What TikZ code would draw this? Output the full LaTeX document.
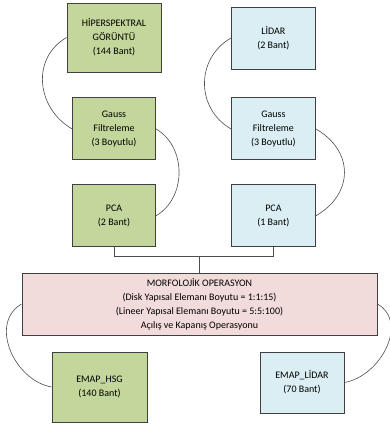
\documentclass[tikz,border=0pt]{standalone}
\usepackage{fontspec}
\setmainfont{Carlito}
\usetikzlibrary{positioning}

\definecolor{hsggreen}{HTML}{C3D69B}
\definecolor{lidarblue}{HTML}{DBEEF3}
\definecolor{morfpink}{HTML}{F2DCDB}

\tikzset{
	box/.style={draw=black!75, line width=0.9pt, align=center, inner sep=0pt,
		font=\fontsize{10}{14}\selectfont},
	hsgbox/.style={box, fill=hsggreen, minimum width=83pt, minimum height=62pt},
	lidarbox/.style={box, fill=lidarblue, minimum width=84pt, minimum height=62pt},
	morfbox/.style={box, fill=morfpink, minimum width=355pt, minimum height=62pt},
	bag/.style={draw=black!70, line width=0.6pt},
}

\begin{document}
\begin{tikzpicture}[x=1pt, y=-1pt]
		\useasboundingbox (0,0) rectangle (390,426);

		\node[hsgbox, minimum width=94pt, minimum height=69pt] (hsi) at (114,37.5) {HİPERSPEKTRAL\\GÖRÜNTÜ\\(144 Bant)} ;
		\node[hsgbox, below=25pt of hsi] (gl) 	{Gauss\\Filtreleme\\(3 Boyutlu)} ;
		\node[hsgbox, below=24pt of gl] (pl) 	{PCA\\(2 Bant)} ;

		\node[lidarbox, right=75pt of gl] (gr) 	{Gauss\\Filtreleme\\(3 Boyutlu)} ;
		\node[lidarbox, above=28pt of gr] (lidar) 	{LİDAR\\(2 Bant)} ;
		\node[lidarbox, below=24pt of gr] (pr) 	{PCA\\(1 Bant)} ;

		\node[morfbox] (morf) at (199.5,304) {MORFOLOJİK OPERASYON\\(Disk Yapısal Elemanı Boyutu = 1:1:15)\\(Lineer Yapısal Elemanı Boyutu = 5:5:100)\\Açılış ve Kapanış Operasyonu} ;

		\node[hsgbox, minimum width=95pt, minimum height=70pt] (emh) at (99.5,387) {EMAP\_HSG\\(140 Bant)} ;
		\node[lidarbox, minimum height=61pt] (eml) at (302,382.5) {EMAP\_LİDAR\\(70 Bant)} ;

		\coordinate[above=16pt of morf.north] (j) ;

		\draw[bag] (hsi.west) to[out=210, in=150, looseness=1.15] (gl.west) ;
		\draw[bag] (gl.east) to[out=-30, in=30, looseness=1.05] (pl.east) ;
		\draw[bag] (lidar.west) to[out=210, in=150, looseness=1.15] (gr.west) ;
		\draw[bag] (gr.east) to[out=-30, in=30, looseness=1.3] (pr.east) ;

		\draw[bag] (pl.south) |- (j) -- (morf.north) ;
		\draw[bag] (pr.south) |- (j) ;

		\draw[bag] (morf.west) to[out=210, in=170, looseness=1.1] (emh.west) ;
		\draw[bag] (morf.east) to[out=-30, in=10, looseness=1.1] (eml.east) ;
\end{tikzpicture}
\end{document}
